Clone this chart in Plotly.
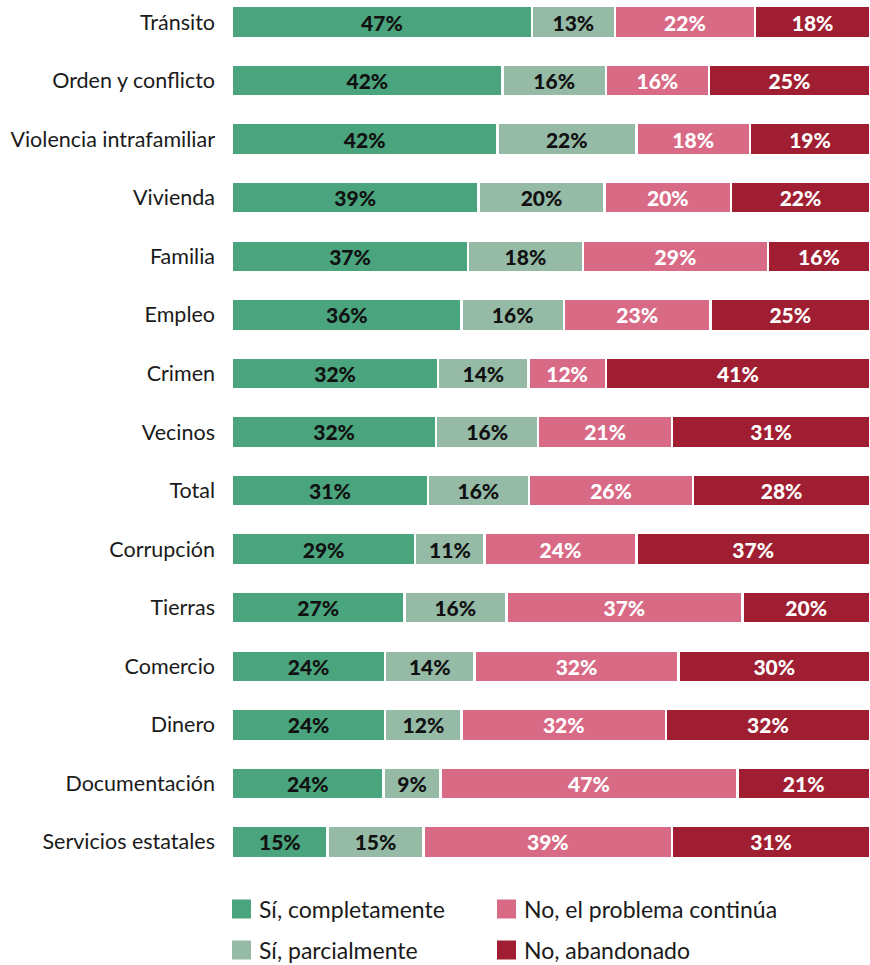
import plotly.graph_objects as go

# Categories, top to bottom
categories = [
    "Tránsito", "Orden y conflicto", "Violencia intrafamiliar", "Vivienda",
    "Familia", "Empleo", "Crimen", "Vecinos", "Total", "Corrupción",
    "Tierras", "Comercio", "Dinero", "Documentación", "Servicios estatales",
]

# Share of answers per category (%)
si_completamente = [47, 42, 42, 39, 37, 36, 32, 32, 31, 29, 27, 24, 24, 24, 15]
si_parcialmente = [13, 16, 22, 20, 18, 16, 14, 16, 16, 11, 16, 14, 12, 9, 15]
no_continua = [22, 16, 18, 20, 29, 23, 12, 21, 26, 24, 37, 32, 32, 47, 39]
no_abandonado = [18, 25, 19, 22, 16, 25, 41, 31, 28, 37, 20, 30, 32, 21, 31]

series_names = ["Sí, completamente", "Sí, parcialmente",
                "No, el problema continúa", "No, abandonado"]
series_values = [si_completamente, si_parcialmente, no_continua, no_abandonado]
series_colors = ["#4aa47d", "#95bba7", "#d96a86", "#a01e31"]
label_colors = ["#111111", "#111111", "#ffffff", "#ffffff"]

FONT = "Lato"
W, H = 870, 965
ML, MR, MT, MB = 232, 0, 0, 85

fig = go.Figure()
for name, vals, col, tcol in zip(series_names, series_values, series_colors, label_colors):
    fig.add_trace(go.Bar(
        y=categories, x=vals, name=name, orientation="h",
        marker=dict(color=col, line=dict(color="white", width=2.5)),
        text=[f"{v}%" for v in vals], texttemplate="%{text}",
        textposition="inside", insidetextanchor="middle", textangle=0,
        textfont=dict(family=FONT, size=21, color=tcol, weight=900),
        showlegend=False, hoverinfo="skip",
    ))

fig.update_layout(
    width=W, height=H,
    margin=dict(l=ML, r=MR, t=MT, b=MB),
    barmode="stack", barnorm="percent", bargap=0.454,
    plot_bgcolor="white", paper_bgcolor="white",
    font=dict(family=FONT, size=21, color="#1a1a1a"),
    uniformtext=dict(mode=False),
)
fig.update_xaxes(range=[0, 100], visible=False, fixedrange=True)
fig.update_yaxes(
    categoryorder="array", categoryarray=categories,
    range=[14.65, -0.376], showgrid=False, zeroline=False, showline=False,
    ticks="", ticklabelstandoff=16,
    tickfont=dict(family=FONT, size=21.5, color="#1a1a1a"),
)

# Legend drawn as swatches + labels below the plot, two columns
plot_w = W - ML - MR
plot_h = H - MT - MB


def px_to_paper(px, py):
    return (px - ML) / plot_w, (H - MB - py) / plot_h


legend_slots = [(232, 909), (232, 950), (497, 909), (497, 950)]
sw = 19
for (lx, ly), name, col in zip(legend_slots, series_names, series_colors):
    x0, y0 = px_to_paper(lx, ly + sw / 2)
    x1, y1 = px_to_paper(lx + sw, ly - sw / 2)
    fig.add_shape(type="rect", xref="paper", yref="paper",
                  x0=x0, y0=y0, x1=x1, y1=y1,
                  fillcolor=col, line=dict(width=0))
    tx, ty = px_to_paper(lx + sw + 6, ly)
    fig.add_annotation(xref="paper", yref="paper", x=tx, y=ty,
                       text=name, showarrow=False, xanchor="left", yanchor="middle",
                       font=dict(family=FONT, size=23, color="#1a1a1a"))

fig.write_html("out.html")
